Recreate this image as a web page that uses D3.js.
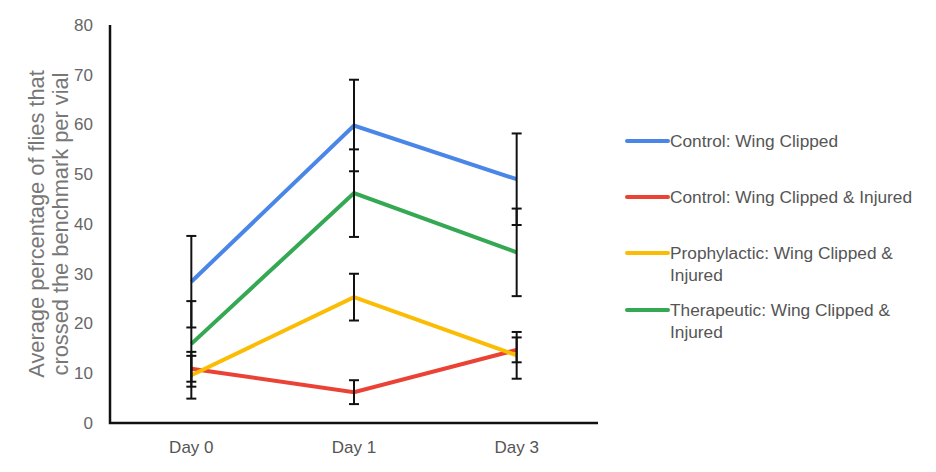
<!DOCTYPE html>
<html>
<head>
<meta charset="utf-8">
<script src="https://cdn.jsdelivr.net/npm/d3@7"></script>
<style>
  html, body { margin: 0; padding: 0; background: #fff; }
  svg { display: block; font-family: Arial, "Liberation Sans", sans-serif; }
</style>
</head>
<body>
<svg id="chart" width="936" height="472"></svg>
<script>
const days = ["Day 0", "Day 1", "Day 3"];
const seriesNames = [
  "Control: Wing Clipped",
  "Control: Wing Clipped & Injured",
  "Prophylactic: Wing Clipped & Injured",
  "Therapeutic: Wing Clipped & Injured"
];
const seriesColors = ["#4a86e8", "#ea4335", "#fbbc04", "#34a853"];
const controlClipped = [28.4, 59.8, 49.0];
const controlInjured = [10.9, 6.2, 14.7];
const prophylactic = [9.6, 25.3, 13.6];
const therapeutic = [15.9, 46.2, 34.3];
const errControlClipped = [9.2, 9.2, 9.2];
const errControlInjured = [2.6, 2.4, 2.5];
const errProphylactic = [4.7, 4.7, 4.7];
const errTherapeutic = [8.6, 8.8, 8.8];
const yTicks = [0, 10, 20, 30, 40, 50, 60, 70, 80];
const yTitleLines = ["Average percentage of flies that", "crossed the benchmark per vial"];
const legendLines = [
  ["Control: Wing Clipped"],
  ["Control: Wing Clipped & Injured"],
  ["Prophylactic: Wing Clipped &", "Injured"],
  ["Therapeutic: Wing Clipped &", "Injured"]
];

const values = [controlClipped, controlInjured, prophylactic, therapeutic];
const errors = [errControlClipped, errControlInjured, errProphylactic, errTherapeutic];

const svg = d3.select("#chart");
const mLeft = 110, mRight = 598, mTop = 25, mBottom = 423;

const x = d3.scaleBand().domain(days).range([mLeft, mRight]);
const y = d3.scaleLinear().domain([0, 80]).range([mBottom, mTop]);
const cx = d => x(d) + x.bandwidth() / 2;

// y tick labels
svg.append("g").selectAll("text").data(yTicks).join("text")
  .attr("x", 93).attr("y", d => y(d)).attr("dy", "0.35em")
  .attr("text-anchor", "end").attr("font-size", 17).attr("fill", "#666")
  .text(d => d);

// y title
const yt = svg.append("text")
  .attr("transform", `translate(36,${(mTop + mBottom) / 2}) rotate(-90)`)
  .attr("text-anchor", "middle").attr("font-size", 21.8).attr("fill", "#777");
yTitleLines.forEach((l, i) => {
  yt.append("tspan").attr("x", 0).attr("dy", i === 0 ? "0.35em" : 24).text(l);
});

// x labels
svg.append("g").selectAll("text").data(days).join("text")
  .attr("x", d => cx(d)).attr("y", 453)
  .attr("text-anchor", "middle").attr("font-size", 17).attr("fill", "#555")
  .text(d => d);

// series lines
const line = d3.line().x((d, i) => cx(days[i])).y(d => y(d));
values.forEach((vals, s) => {
  svg.append("path").datum(vals)
    .attr("d", line).attr("fill", "none")
    .attr("stroke", seriesColors[s]).attr("stroke-width", 4)
    .attr("stroke-linejoin", "miter");
});

// error bars
const eb = svg.append("g").attr("stroke", "#111").attr("stroke-width", 2);
values.forEach((vals, s) => {
  vals.forEach((v, i) => {
    const xc = cx(days[i]);
    const lo = v - errors[s][i], hi = v + errors[s][i];
    eb.append("line").attr("x1", xc).attr("x2", xc).attr("y1", y(lo)).attr("y2", y(hi));
    eb.append("line").attr("x1", xc - 5).attr("x2", xc + 5).attr("y1", y(lo)).attr("y2", y(lo));
    eb.append("line").attr("x1", xc - 5).attr("x2", xc + 5).attr("y1", y(hi)).attr("y2", y(hi));
  });
});

// axes lines
svg.append("path")
  .attr("d", `M${mLeft},${mTop}V${mBottom}H${mRight}`)
  .attr("fill", "none").attr("stroke", "#111").attr("stroke-width", 2.5);

// legend
const legendY = [141, 197, 253, 310];
legendLines.forEach((lines, s) => {
  const g = svg.append("g").attr("transform", `translate(627,${legendY[s]})`);
  g.append("line").attr("x1", 0).attr("x2", 41).attr("y1", 0).attr("y2", 0)
    .attr("stroke", seriesColors[s]).attr("stroke-width", 4).attr("stroke-linecap", "round");
  const t = g.append("text").attr("x", 43).attr("y", 0).attr("font-size", 17.3).attr("fill", "#555");
  lines.forEach((l, i) => {
    t.append("tspan").attr("x", 43).attr("dy", i === 0 ? "0.35em" : 22).text(l);
  });
});
</script>
</body>
</html>
